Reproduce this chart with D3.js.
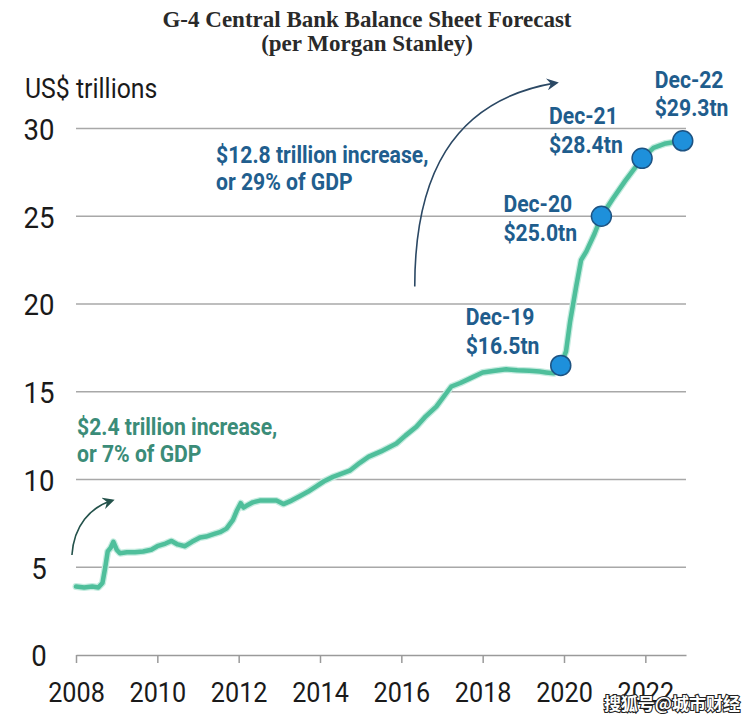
<!DOCTYPE html>
<html>
<head>
<meta charset="utf-8">
<script src="https://cdn.jsdelivr.net/npm/d3@7"></script>
<style>
  html, body { margin: 0; padding: 0; background: #fff; }
  svg { display: block; }
</style>
</head>
<body>
<svg id="chart" width="755" height="720"></svg>
<script>
// ---------------- DATA ----------------
const years = [
  2008.0, 2008.2, 2008.4, 2008.55, 2008.65, 2008.72, 2008.78, 2008.85, 2008.92,
  2009.0, 2009.08, 2009.25, 2009.45, 2009.65, 2009.85, 2010.0, 2010.2, 2010.35,
  2010.5, 2010.68, 2010.85, 2011.05, 2011.2, 2011.4, 2011.54, 2011.7, 2011.86,
  2011.95, 2012.05, 2012.12, 2012.19, 2012.35, 2012.52, 2012.75, 2012.93, 2013.1,
  2013.3, 2013.5, 2013.7, 2013.9, 2014.1, 2014.32, 2014.5, 2014.73, 2014.98,
  2015.2, 2015.5, 2015.88, 2016.1, 2016.37, 2016.6, 2016.86, 2017.1, 2017.23,
  2017.45, 2017.68, 2018.0, 2018.3, 2018.58, 2018.85, 2019.15, 2019.4, 2019.56,
  2019.75, 2019.92, 2020.05, 2020.15, 2020.3, 2020.42, 2020.55, 2020.75, 2020.92,
  2021.2, 2021.5, 2021.92, 2022.2, 2022.5, 2022.92
];
const values = [
  3.9, 3.85, 3.9, 3.85, 4.1, 5.0, 5.9, 6.1, 6.45,
  6.0, 5.8, 5.85, 5.85, 5.9, 6.0, 6.2, 6.35, 6.5,
  6.3, 6.2, 6.45, 6.7, 6.75, 6.9, 7.0, 7.2, 7.7,
  8.2, 8.65, 8.4, 8.5, 8.7, 8.8, 8.8, 8.8, 8.6,
  8.8, 9.05, 9.3, 9.6, 9.9, 10.15, 10.3, 10.5, 10.95,
  11.3, 11.6, 12.05, 12.5, 13.0, 13.6, 14.15, 14.9, 15.3,
  15.5, 15.75, 16.1, 16.2, 16.28, 16.22, 16.2, 16.15, 16.1,
  16.05, 16.5, 17.3, 19.0, 21.0, 22.5, 23.0, 24.0, 25.0,
  26.0, 27.0, 28.3, 28.9, 29.15, 29.3
];
const markerYears   = [2019.92, 2020.92, 2021.92, 2022.92];
const markerValues  = [16.5, 25.0, 28.3, 29.3];
const markerDates   = ["Dec-19", "Dec-20", "Dec-21", "Dec-22"];
const markerAmounts = ["$16.5tn", "$25.0tn", "$28.4tn", "$29.3tn"];
const xTickYears  = [2008, 2010, 2012, 2014, 2016, 2018, 2020, 2022];
const yTickValues = [0, 5, 10, 15, 20, 25, 30];
const titleLines  = ["G-4 Central Bank Balance Sheet Forecast", "(per Morgan Stanley)"];
const unitLabel   = "US$ trillions";
const noteGreen   = ["$2.4 trillion increase,", "or 7% of GDP"];
const noteBlue    = ["$12.8 trillion increase,", "or 29% of GDP"];
const watermark   = "搜狐号@城市财经";

// ---------------- LAYOUT ----------------
const W = 755, H = 720;
const svg = d3.select("#chart");
svg.append("rect").attr("width", W).attr("height", H).attr("fill", "#fff");

const x = d3.scaleLinear().domain([2008, 2023]).range([76, 686]);
const y = d3.scaleLinear().domain([0, 30]).range([655, 128.5]);

const condensed = 0.9;
const labelFont = "Roboto, 'Noto Sans', sans-serif";

// Title
svg.append("g").selectAll("text").data(titleLines).join("text")
  .attr("x", 367).attr("y", (d, i) => 27 + i * 24)
  .attr("text-anchor", "middle")
  .attr("font-family", "'Liberation Serif', 'DejaVu Serif', serif")
  .attr("font-weight", 700)
  .attr("font-size", 23)
  .attr("fill", "#2a2a2a")
  .text(d => d);

// Unit label
svg.append("text")
  .attr("transform", "translate(25,98) scale(0.92,1)")
  .attr("font-family", labelFont).attr("font-size", 27).attr("fill", "#1a1a1a")
  .text(unitLabel);

// Gridlines
svg.append("g").selectAll("line").data(yTickValues.filter(v => v > 0)).join("line")
  .attr("x1", x(2008)).attr("x2", x(2023))
  .attr("y1", d => y(d)).attr("y2", d => y(d))
  .attr("stroke", "#a8a8a8").attr("stroke-width", 1.5);

// X axis
const xAxis = svg.append("g").attr("transform", `translate(0,${y(0)})`)
  .call(d3.axisBottom(x).tickValues(xTickYears).tickFormat(d3.format("d"))
    .tickSize(8).tickSizeOuter(0).tickPadding(19));
xAxis.select(".domain").attr("stroke", "#9a9a9a").attr("stroke-width", 1.5);
xAxis.selectAll(".tick line").attr("stroke", "#9a9a9a").attr("stroke-width", 1.5);
xAxis.selectAll(".tick text")
  .attr("font-family", labelFont).attr("font-size", 28).attr("fill", "#1a1a1a")
  .attr("transform", `scale(${condensed},1)`);

// Y axis labels (centred)
const ySc = 0.92;
const yAxis = svg.append("g").attr("transform", `translate(${x(2008)},0)`)
  .call(d3.axisLeft(y).tickValues(yTickValues).tickSize(0).tickPadding(0));
yAxis.select(".domain").remove();
yAxis.selectAll(".tick text")
  .attr("text-anchor", "middle").attr("x", -37 / ySc).attr("dy", "0.36em")
  .attr("font-family", labelFont).attr("font-size", 30).attr("fill", "#1a1a1a")
  .attr("transform", `scale(${ySc},1)`);

// Arrow markers
const defs = svg.append("defs");
function marker(id, color) {
  defs.append("marker").attr("id", id)
    .attr("viewBox", "0 0 12 12").attr("refX", 9).attr("refY", 6)
    .attr("markerWidth", 12).attr("markerHeight", 12)
    .attr("markerUnits", "userSpaceOnUse").attr("orient", "auto")
    .append("path").attr("d", "M0,0 L12,6 L0,12 L4,6 Z").attr("fill", color);
}
marker("arrG", "#24524b");
marker("arrB", "#2b4864");

// Curved arrows (defined in data space)
const arrowPath = (pts) => {
  const p = pts.map(([a, b]) => [x(a), y(b)]);
  return `M${p[0]} C${p[1]} ${p[2]} ${p[3]}`;
};
svg.append("path")
  .attr("d", arrowPath([[2007.9, 5.7], [2007.95, 7.4], [2008.35, 8.4], [2008.88, 8.8]]))
  .attr("fill", "none").attr("stroke", "#24524b").attr("stroke-width", 1.6)
  .attr("marker-end", "url(#arrG)");
svg.append("path")
  .attr("d", arrowPath([[2016.33, 21.0], [2016.33, 27.1], [2017.2, 31.6], [2019.8, 32.6]]))
  .attr("fill", "none").attr("stroke", "#2b4864").attr("stroke-width", 1.6)
  .attr("marker-end", "url(#arrB)");

// Line
const line = d3.line().x((d, i) => x(years[i])).y(d => y(d));
svg.append("path").datum(values)
  .attr("d", line).attr("fill", "none")
  .attr("stroke", "#c6ece0").attr("stroke-width", 7)
  .attr("stroke-linejoin", "round").attr("stroke-linecap", "round");
svg.append("path").datum(values)
  .attr("d", line).attr("fill", "none")
  .attr("stroke", "#4fbf9b").attr("stroke-width", 4.5)
  .attr("stroke-linejoin", "round").attr("stroke-linecap", "round");

// Markers
svg.append("g").selectAll("circle").data(markerValues).join("circle")
  .attr("cx", (d, i) => x(markerYears[i])).attr("cy", d => y(d))
  .attr("r", 10).attr("fill", "#1e90db")
  .attr("stroke", "#1d5383").attr("stroke-width", 1.5);

// Marker labels: offsets from each dot
const labelOffsets = [[-95, -40], [-98, -4], [-93, -34], [-28, -53]];
const annFont = (sel, color) => sel
  .attr("font-family", labelFont).attr("font-weight", 700)
  .attr("font-size", 23.5).attr("fill", color);
const lbl = svg.append("g").selectAll("g").data(markerValues).join("g")
  .attr("transform", (d, i) =>
    `translate(${x(markerYears[i]) + labelOffsets[i][0]},${y(d) + labelOffsets[i][1]}) scale(${condensed},1)`);
lbl.append("text").call(annFont, "#1f5d8d").text((d, i) => markerDates[i]);
lbl.append("text").call(annFont, "#1f5d8d").attr("y", 28.5).text((d, i) => markerAmounts[i]);

// Notes
svg.append("g").attr("transform", `translate(77,435) scale(${condensed},1)`)
  .selectAll("text").data(noteGreen).join("text")
  .call(annFont, "#3b8c78").attr("y", (d, i) => i * 27).text(d => d);
svg.append("g").attr("transform", `translate(216,163) scale(${condensed},1)`)
  .selectAll("text").data(noteBlue).join("text")
  .call(annFont, "#215e8e").attr("y", (d, i) => i * 27).text(d => d);

// Watermark
svg.append("text")
  .attr("x", 740).attr("y", 710).attr("text-anchor", "end")
  .attr("font-family", "'Noto Sans CJK SC', sans-serif").attr("font-size", 17)
  .attr("font-weight", 700)
  .attr("fill", "#fff").attr("stroke", "#222").attr("stroke-width", 2.2)
  .attr("paint-order", "stroke")
  .text(watermark);
</script>
</body>
</html>
